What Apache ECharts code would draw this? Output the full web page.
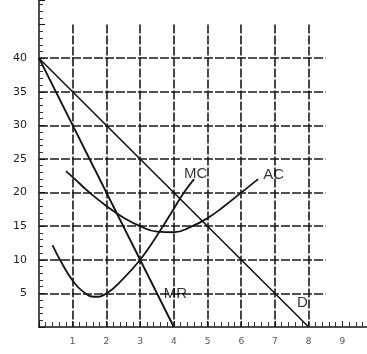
<!DOCTYPE html>
<html>
<head>
<meta charset="utf-8">
<script src="https://cdn.jsdelivr.net/npm/echarts@6/dist/echarts.min.js"></script>
<style>html,body{margin:0;padding:0;background:#fff;}#c{width:367px;height:354px;}</style>
</head>
<body>
<div id="c"></div>
<script>
// Data
const xTickLabels = [1, 2, 3, 4, 5, 6, 7, 8, 9];
const yTickLabels = [5, 10, 15, 20, 25, 30, 35, 40];
const demandD = [[0, 40], [8, 0]];
const marginalRevenueMR = [[0, 40], [4, 0]];
const marginalCostMC = [[0.4, 12.2], [0.7, 9.3], [1, 6.9], [1.3, 5.3], [1.65, 4.5], [2, 5], [2.5, 7.2], [3, 10], [3.5, 13.6], [4, 17.6], [4.3, 20], [4.6, 22]];
const averageCostAC = [[0.8, 23.2], [1, 22.3], [1.5, 20], [2, 18], [2.5, 16.3], [3, 15], [3.5, 14.2], [4, 14.1], [4.5, 14.9], [5, 16.2], [5.5, 18], [6, 20], [6.5, 22]];
const curveLabels = [[4.3, 22.8, 'MC'], [6.65, 22.7, 'AC'], [3.7, 5.0, 'MR'], [7.65, 3.6, 'D']];

const chart = echarts.init(document.getElementById('c'));
const ink = '#141414';
const gridDash = {color: '#1a1a1a', width: 1.6, type: [9, 2]};
chart.setOption({
  animation: false,
  grid: [
    {left: 39, right: 0, top: 0, bottom: 27},
    {left: 39, bottom: 27, width: 286.5, height: 302.4}
  ],
  xAxis: [
    {
      type: 'value', gridIndex: 0, min: 0, max: 9.73, interval: 1,
      axisLine: {show: true, onZero: false, lineStyle: {color: ink, width: 1.5}},
      axisTick: {show: true, inside: true, length: 6, lineStyle: {color: ink}},
      minorTick: {show: true, splitNumber: 5, length: 5, lineStyle: {color: '#333'}},
      splitLine: {show: false},
      axisLabel: {
        margin: 10, fontSize: 9, color: '#555', fontFamily: 'DejaVu Sans',
        showMaxLabel: false,
        formatter: v => (xTickLabels.indexOf(Math.round(v)) >= 0 && Math.abs(v - Math.round(v)) < 1e-6) ? String(Math.round(v)) : ''
      }
    },
    {
      type: 'value', gridIndex: 1, min: 0, max: 8.5, interval: 1,
      axisLine: {show: false}, axisTick: {show: false}, axisLabel: {show: false},
      splitLine: {show: true, showMinLine: false, showMaxLine: false, lineStyle: gridDash}
    }
  ],
  yAxis: [
    {
      type: 'value', gridIndex: 0, min: 0, max: 48.66, interval: 5,
      axisLine: {show: true, onZero: false, lineStyle: {color: ink, width: 1.5}},
      axisTick: {show: true, inside: true, length: 6, lineStyle: {color: ink}},
      minorTick: {show: true, splitNumber: 5, length: 4, lineStyle: {color: '#333'}},
      splitLine: {show: false},
      axisLabel: {
        margin: 12, fontSize: 11, color: '#222', fontFamily: 'DejaVu Sans',
        showMaxLabel: false,
        formatter: v => yTickLabels.indexOf(Math.round(v)) >= 0 ? String(Math.round(v)) : ''
      }
    },
    {
      type: 'value', gridIndex: 1, min: 0, max: 45, interval: 5,
      axisLine: {show: false}, axisTick: {show: false}, axisLabel: {show: false},
      splitLine: {show: true, showMinLine: false, showMaxLine: false, lineStyle: gridDash}
    }
  ],
  series: [
    {type: 'line', name: 'D', data: demandD, symbol: 'none', lineStyle: {color: ink, width: 1.6}, z: 5},
    {type: 'line', name: 'MR', data: marginalRevenueMR, symbol: 'none', lineStyle: {color: ink, width: 1.9}, z: 5},
    {type: 'line', name: 'MC', data: marginalCostMC, symbol: 'none', smooth: 0.5, lineStyle: {color: ink, width: 1.8}, z: 5},
    {type: 'line', name: 'AC', data: averageCostAC, symbol: 'none', smooth: 0.5, lineStyle: {color: ink, width: 1.8}, z: 5},
    {
      type: 'scatter', data: curveLabels, symbolSize: 0, z: 6,
      label: {
        show: true, position: 'right', distance: 0,
        formatter: p => p.data[2],
        fontFamily: 'Liberation Sans', fontSize: 15, color: '#000'
      }
    }
  ]
});
</script>
</body>
</html>
